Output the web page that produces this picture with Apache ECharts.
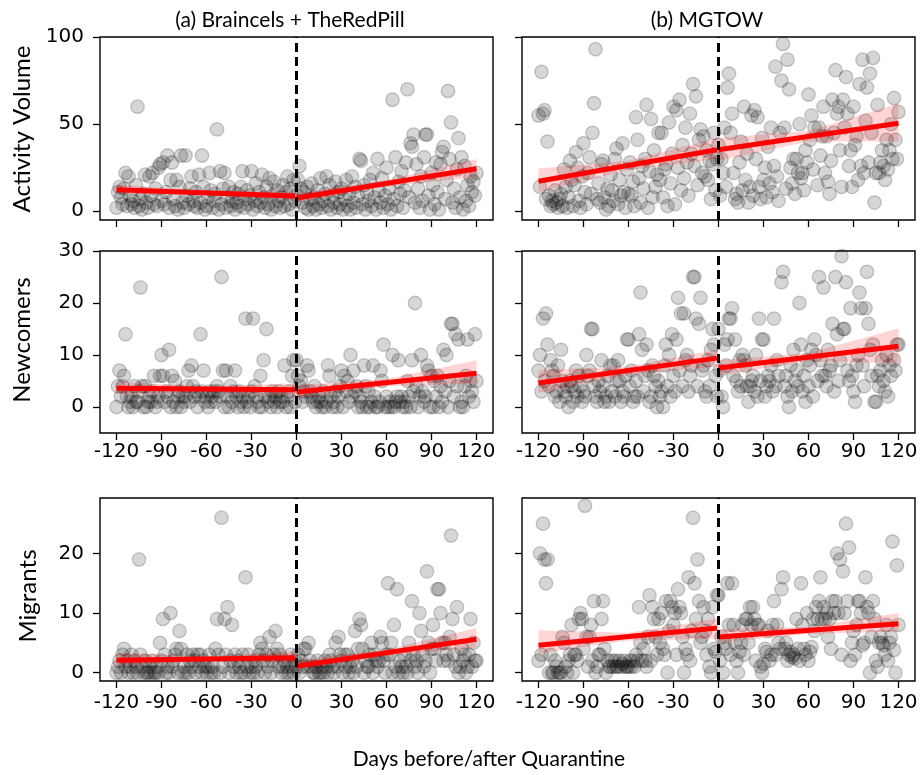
<!DOCTYPE html>
<html><head><meta charset="utf-8">
<script src="https://cdn.jsdelivr.net/npm/echarts@6/dist/echarts.min.js"></script>
<style>html,body{margin:0;padding:0;background:#fff}#c{width:923px;height:775px}</style>
</head><body><div id="c"></div>
<script>
// ---------- DATA ----------
// daily values, day -120 .. 120 (241 values each)
const actA = [
 2,11,14,8,4,13,22,3,20,9, 4,6,2,15,60,3,7,1,10,21, 5,2,20,9,22,4,13,3,25,27,
 6,28,4,11,32,2,18,28,7,3, 18,1,14,32,5,2,32,9,4,13, 20,6,3,11,2,21,5,32,14,1,
 3,8,22,12,2,6,10,47,1,23, 4,13,22,2,8,14,3,6,11,1, 5,10,3,14,23,2,7,12,4,9,
 23,1,6,16,3,11,5,21,8,2, 14,4,19,1,9,17,3,12,6,2, 8,15,3,11,20,4,13,1,18,6,
 9,18,26,13,5,11,2,14,1,7, 16,3,8,1,12,4,19,2,6,10, 20,3,15,1,9,5,17,2,11,4,
 13,1,7,18,3,10,1,20,5,14, 2,9,30,29,4,15,1,11,6,18, 3,22,8,1,30,12,5,19,2,9,
 25,4,13,1,64,7,31,3,17,10, 23,2,12,28,70,8,39,37,44,5, 27,13,2,20,6,31,44,44,9,1,
 22,15,4,28,11,1,27,34,37,7, 18,69,30,51,5,13,2,24,42,8, 31,1,26,6,15,3,20,11,17,9,
 22];
const actB = [
 55,14,80,56,58,7,40,9,3,6, 4,12,5,2,7,10,3,24,14,2, 8,29,18,3,15,34,25,6,2,20,
 39,11,4,22,31,10,45,62,93,7, 16,5,27,29,8,1,13,3,21,12, 6,30,36,4,18,9,39,11,2,24,
 10,28,9,17,3,54,41,19,5,26, 13,30,61,2,23,53,8,35,14,21, 45,18,45,8,24,27,3,51,16,33,
 60,4,58,25,64,12,38,19,48,28, 9,56,33,73,26,66,15,41,47,22, 43,20,35,18,29,7,27,45,12,30,
 38,9,30,22,48,14,71,79,45,56, 22,7,10,5,28,40,12,60,18,33, 5,14,55,9,58,30,54,14,7,42,
 18,25,8,37,16,48,11,26,83,20, 6,45,75,96,48,13,87,70,25,16, 30,10,30,22,50,19,22,12,35,28,
 67,41,55,24,48,102,15,48,32,43, 60,22,43,17,10,29,64,45,81,56, 60,35,14,64,48,77,56,26,35,14,
 60,38,43,18,73,26,87,22,52,71, 28,79,45,88,5,22,61,22,28,35, 26,18,41,24,35,50,30,65,41,30,
 57];
const newA = [
 0,4,7,2,4,6,14,2,0,1, 2,0,4,1,1,3,23,4,0,4, 0,1,2,1,3,6,0,1,2,6,
 10,6,1,3,2,11,0,6,1,5, 0,2,3,0,2,1,2,4,7,1, 8,4,2,3,0,2,14,3,7,1,
 2,0,3,1,2,3,1,4,3,2, 25,7,0,7,2,0,4,1,3,7, 2,0,3,1,2,0,17,1,2,0,
 3,17,4,2,1,0,6,0,9,2, 15,1,2,0,3,1,2,0,3,1, 2,1,8,0,2,3,0,6,9,1,
 9,6,4,5,1,3,2,8,7,3, 2,1,4,0,1,2,1,0,3,0, 1,8,6,2,0,1,3,0,2,4,
 7,0,6,3,5,1,10,2,7,3, 4,0,2,1,0,8,4,0,3,0, 1,8,2,0,0,1,7,5,12,0,
 2,0,1,0,10,0,1,2,9,1, 2,0,1,0,5,2,0,9,3,20, 4,0,2,10,3,1,2,8,7,0,
 6,0,5,2,6,0,4,1,11,3, 10,0,5,16,16,2,14,4,13,0, 1,0,4,6,13,2,5,3,1,14,
 5];
const newB = [
 7,10,3,17,5,18,12,4,9,7, 6,2,3,8,1,11,5,3,2,4, 0,5,4,1,3,7,2,6,4,1,
 3,2,10,6,7,15,15,4,2,1, 5,3,9,4,1,2,6,1,8,3, 8,2,5,9,5,1,3,2,6,13,
 13,4,7,1,2,5,2,14,22,11, 3,6,12,7,1,2,8,6,4,0, 5,2,3,0,8,12,4,10,2,14,
 6,3,13,21,7,18,4,18,9,10, 3,6,8,25,25,17,4,16,21,7, 8,3,2,9,4,11,15,12,6,2,
 15,7,2,0,12,8,13,17,17,19, 6,13,5,3,9,4,10,9,8,4, 1,4,5,6,3,10,2,17,5,13,
 13,2,4,6,5,8,3,17,4,9, 6,31,24,26,4,6,2,0,8,3, 11,5,7,4,20,12,3,6,1,9,
 4,8,11,2,13,10,5,25,9,6, 23,6,4,11,7,8,16,3,25,14, 5,9,29,15,15,24,7,5,19,6,
 3,1,8,10,22,19,8,4,19,26, 16,11,6,12,1,1,6,4,7,9, 5,3,10,2,8,6,31,9,7,12,
 12];
const migA = [
 0,1,2,0,3,4,1,2,0,1, 3,0,2,1,0,19,3,1,0,2, 0,0,1,0,2,0,0,1,0,5,
 2,9,3,0,1,0,10,1,2,3, 4,0,7,4,0,1,0,3,0,2, 1,3,2,0,3,1,3,0,2,1,
 0,1,3,0,1,0,4,9,3,0, 26,1,9,3,11,0,2,8,1,3, 0,2,1,0,3,0,16,1,3,0,
 1,0,2,1,0,3,5,4,2,0, 3,1,6,0,2,3,7,4,1,3, 0,1,2,0,1,0,3,1,0,2,
 1,3,0,2,1,4,4,1,5,2, 1,0,0,1,2,0,0,1,0,2, 1,0,3,2,1,0,5,1,6,3,
 2,0,3,1,3,0,1,2,0,7, 1,4,9,8,4,0,2,1,1,3, 5,0,3,2,1,2,6,5,2,0,
 3,15,3,5,0,8,1,14,0,2, 1,0,3,1,0,5,2,12,3,1, 2,0,10,7,3,1,2,17,5,0,
 4,8,4,2,14,14,10,5,2,5, 3,2,6,23,9,3,1,11,0,1, 4,2,3,0,1,3,9,1,5,2,
 2];
const migB = [
 2,20,3,25,19,15,19,0,3,0, 0,2,1,0,0,0,6,5,1,0, 2,3,8,0,3,3,2,9,10,9,
 4,28,6,1,6,8,2,12,0,1, 3,3,9,12,4,0,2,1,1,2, 1,2,1,1,2,1,1.5,2,1,1,
 1,2,1,2,1,3,2,11,5,2, 4,2,1,6,13,2,11,9,6,3, 9,5,10,4,3,12,0,7,12,11,
 8,10,3,14,11,10,6,0,4,3, 16,2,7,26,15,9,19,12,5,6, 11,7,3,9,1,0,11,4,3.5,13,
 13,2,6,0,5,4,15,8,3,15, 8,5,2,0,3.5,5,8,3,9,9, 5,11,8,11,9,2,8,8,1,0,
 1.5,4,3.5,7,2,3,8,12,3,8, 5,4,14,16,4,5,2,3,3.5,2.6, 3,2.4,9,4,2,15,8,4,3,10,
 2,3.5,4.3,9,7,11,9,12,16,9, 11,9,10,6,9,4,12,10,12,20, 10,19,3,17,10,25,12,21,2,5,
 7,3,8,12,12,10,4.6,5,16,11, 10,0,6,12,9,2,1,5,6,5, 4.6,3,8,2,5,6,22,3.8,0,18,
 8];

// tick labels
const xTicks = [-120,-90,-60,-30,0,30,60,90,120];
const yTicksAct = [0,50,100];
const yTicksNew = [0,10,20,30];
const yTicksMig = [0,10,20];

// regression fits: value at start / end of each period
const fitXPre = [-120, -1];
const fitXPost = [0, 120];
const fitActAPre = [12.4, 8.8],  fitActAPost = [7.6, 24.4];
const fitActBPre = [17.2, 35.3], fitActBPost = [35.3, 50.5];
const fitNewAPre = [3.6, 3.3],   fitNewAPost = [2.9, 6.5];
const fitNewBPre = [4.6, 9.4],   fitNewBPost = [7.5, 11.7];
const fitMigAPre = [2.1, 2.5],   fitMigAPost = [1.1, 5.6];
const fitMigBPre = [4.6, 7.5],   fitMigBPost = [6.0, 8.2];

// confidence bands [low, high] at start / middle / end of each period
const bandXPre = [-120, -60, -1];
const bandXPost = [0, 60, 120];
const bandActAPre = [[10,15.3],[9.5,11.7],[6.3,11.3]],  bandActAPost = [[5,10.2],[14.2,17.8],[19.5,30]];
const bandActBPre = [[11,24.5],[23.5,29],[30,42]],      bandActBPost = [[29,42],[40,46],[40,62]];
const bandNewAPre = [[2.5,4.8],[2.9,4.0],[2.2,4.5]],    bandNewAPost = [[1.7,4.2],[4.0,5.4],[4.5,9]];
const bandNewBPre = [[2.7,7.1],[6.2,7.8],[7.8,11]],     bandNewBPost = [[6,9],[8.8,10.4],[8.4,15.1]];
const bandMigAPre = [[1.2,3.3],[1.9,2.7],[1.6,3.6]],    bandMigAPost = [[0.4,2.1],[2.8,3.9],[4.2,7.5]];
const bandMigBPre = [[3.2,7.1],[5.4,6.7],[5.7,9.1]],    bandMigBPost = [[5,7.3],[6.5,7.7],[6.9,10]];

// ---------- CHART ----------
const days = [];
for (let d = -120; d <= 120; d++) days.push(d);

const panels = [
 {vals: actA, yr: [-5, 100],     yt: yTicksAct, fp: fitActAPre, fq: fitActAPost, bp: bandActAPre, bq: bandActAPost, xl: false, yl: true},
 {vals: actB, yr: [-5, 100],     yt: yTicksAct, fp: fitActBPre, fq: fitActBPost, bp: bandActBPre, bq: bandActBPost, xl: false, yl: false},
 {vals: newA, yr: [-5, 30],      yt: yTicksNew, fp: fitNewAPre, fq: fitNewAPost, bp: bandNewAPre, bq: bandNewAPost, xl: true, yl: true},
 {vals: newB, yr: [-5, 30],      yt: yTicksNew, fp: fitNewBPre, fq: fitNewBPost, bp: bandNewBPre, bq: bandNewBPost, xl: true, yl: false},
 {vals: migA, yr: [-1.4, 29.3],  yt: yTicksMig, fp: fitMigAPre, fq: fitMigAPost, bp: bandMigAPre, bq: bandMigAPost, xl: true, yl: true},
 {vals: migB, yr: [-1.4, 29.3],  yt: yTicksMig, fp: fitMigBPre, fq: fitMigBPost, bp: bandMigBPre, bq: bandMigBPost, xl: true, yl: false}
];
const gridPos = [
 {left:100, top:37, width:393, height:183},
 {left:522, top:37, width:393, height:183},
 {left:100, top:251, width:393, height:182},
 {left:522, top:251, width:393, height:182},
 {left:100, top:498, width:393, height:183},
 {left:522, top:498, width:393, height:183}
];
const tickFont = {fontFamily: 'DejaVu Sans', fontSize: 20, color: '#000'};
const grids = [], xAxes = [], yAxes = [], series = [];

function bandSeries(gi, xs, band) {
  return {
    type: 'custom', xAxisIndex: gi, yAxisIndex: gi, z: 3, silent: true,
    data: [[xs[0], band[0][0]]],
    renderItem: function (params, api) {
      const pts = [];
      for (let i = 0; i < xs.length; i++) pts.push(api.coord([xs[i], band[i][0]]));
      for (let i = xs.length - 1; i >= 0; i--) pts.push(api.coord([xs[i], band[i][1]]));
      return {type: 'polygon', shape: {points: pts, smooth: 0}, style: {fill: 'rgba(255,0,0,0.17)'}};
    }
  };
}

panels.forEach((p, gi) => {
  grids.push(Object.assign({show: true, borderColor: '#000', borderWidth: 1.4, backgroundColor: 'transparent'}, gridPos[gi]));
  xAxes.push({
    type: 'value', gridIndex: gi, min: -131, max: 131,
    axisLine: {show: false, onZero: false},
    axisTick: {show: true, length: 7, customValues: xTicks, lineStyle: {color: '#000', width: 1.3}},
    axisLabel: Object.assign({show: p.xl, customValues: xTicks, margin: gi >= 4 ? 12 : 9}, tickFont),
    splitLine: {show: false}
  });
  yAxes.push({
    type: 'value', gridIndex: gi, min: p.yr[0], max: p.yr[1],
    axisLine: {show: false, onZero: false},
    axisTick: {show: true, length: 7, customValues: p.yt, lineStyle: {color: '#000', width: 1.3}},
    axisLabel: Object.assign({show: p.yl, customValues: p.yt, margin: 16}, tickFont),
    splitLine: {show: false}
  });
  series.push({
    type: 'scatter', xAxisIndex: gi, yAxisIndex: gi, z: 2, silent: true,
    symbol: 'circle', symbolSize: 13.5,
    itemStyle: {color: 'rgba(0,0,0,0.2)', borderColor: 'rgba(0,0,0,0.24)', borderWidth: 1.3},
    data: days.map((d, i) => [d, p.vals[i]])
  });
  series.push(bandSeries(gi, bandXPre, p.bp));
  series.push(bandSeries(gi, bandXPost, p.bq));
  series.push({
    type: 'line', xAxisIndex: gi, yAxisIndex: gi, z: 4, silent: true, symbol: 'none',
    lineStyle: {color: '#ff0000', width: 5},
    data: [[fitXPre[0], p.fp[0]], [fitXPre[1], p.fp[1]]]
  });
  series.push({
    type: 'line', xAxisIndex: gi, yAxisIndex: gi, z: 4, silent: true, symbol: 'none',
    lineStyle: {color: '#ff0000', width: 5},
    data: [[fitXPost[0], p.fq[0]], [fitXPost[1], p.fq[1]]],
    markLine: {
      silent: true, symbol: ['none', 'none'], label: {show: false}, animation: false,
      lineStyle: {color: '#000', width: 3, type: [9, 5]},
      data: [{xAxis: 0}]
    }
  });
});

const labelFont = '"Lato", "Open Sans", sans-serif';
const graphics = [
  {type: 'text', x: 290, y: 20, style: {text: '(a) Braincels + TheRedPill', font: '21px ' + labelFont, fill: '#000', textAlign: 'center', textVerticalAlign: 'middle'}},
  {type: 'text', x: 707, y: 20, style: {text: '(b) MGTOW', font: '21px ' + labelFont, fill: '#000', textAlign: 'center', textVerticalAlign: 'middle'}},
  {type: 'text', x: 22, y: 129, rotation: Math.PI / 2, style: {text: 'Activity Volume', font: '24px ' + labelFont, fill: '#000', textAlign: 'center', textVerticalAlign: 'middle'}},
  {type: 'text', x: 22, y: 340, rotation: Math.PI / 2, style: {text: 'Newcomers', font: '24px ' + labelFont, fill: '#000', textAlign: 'center', textVerticalAlign: 'middle'}},
  {type: 'text', x: 28, y: 596, rotation: Math.PI / 2, style: {text: 'Migrants', font: '24px ' + labelFont, fill: '#000', textAlign: 'center', textVerticalAlign: 'middle'}},
  {type: 'text', x: 489, y: 759, style: {text: 'Days before/after Quarantine', font: '21px ' + labelFont, fill: '#000', textAlign: 'center', textVerticalAlign: 'middle'}}
];

const chart = echarts.init(document.getElementById('c'), null, {renderer: 'canvas'});
chart.setOption({
  animation: false,
  backgroundColor: '#fff',
  grid: grids, xAxis: xAxes, yAxis: yAxes, series: series, graphic: graphics
});
</script>
</body></html>
